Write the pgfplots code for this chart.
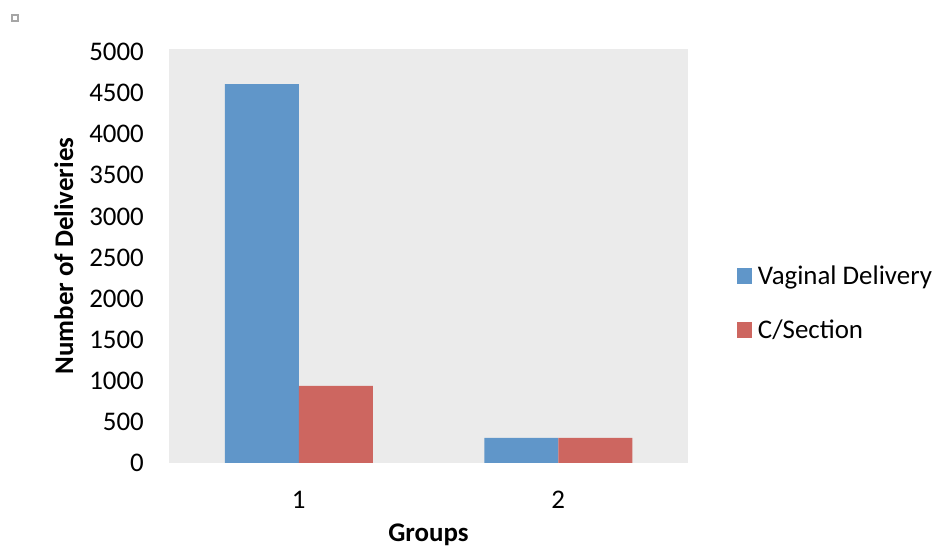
\documentclass[border=0pt]{standalone}
\usepackage{fontspec}
\setmainfont{Carlito}
\usepackage{pgfplots}
\pgfplotsset{compat=1.18}
\definecolor{barblue}{HTML}{6096C9}
\definecolor{barred}{HTML}{CD6660}
\definecolor{bggray}{HTML}{EBEBEB}
\begin{document}
\begin{tikzpicture}[x=1bp,y=1bp]
\useasboundingbox (0,0) rectangle (935,549);
\draw[gray!70, line width=1.2bp] (12,528) rectangle (18,534);
\begin{axis}[
  at={(169bp,86bp)}, anchor=south west,
  scale only axis,
  width=519bp, height=414bp,
  xmin=0.5, xmax=2.5,
  ymin=0, ymax=5036,
  xtick={1,2}, xticklabels={1,2},
  ytick={0,500,...,5000},
  major tick length=0pt,
  axis line style={draw=none},
  axis background/.style={fill=bggray},
  /pgf/number format/assume math mode=true,
  /pgf/number format/1000 sep={},
  font=\fontsize{27}{32}\selectfont,
  ticklabel style={font=\fontsize{27}{32}\selectfont, inner sep=0pt},
  yticklabel style={anchor=east, xshift=-25bp},
  xticklabel style={anchor=north, yshift=-28bp},
  xlabel={\textbf{Groups}},
  ylabel={\textbf{Number of Deliveries}},
  xlabel style={at={(axis description cs:0.5,0)}, anchor=north, inner sep=0pt, yshift=-61bp},
  ylabel style={at={(axis description cs:-0.184,0.5)}, anchor=south, inner sep=0pt},
  ybar, bar width=74bp,
  legend style={at={(axis description cs:1.094,0.386)}, anchor=west, draw=none, fill=none,
    font=\fontsize{27}{32}\selectfont, row sep=34bp, inner sep=0pt,
    nodes={inner sep=0pt, anchor=west}},
  legend cell align=left,
  legend image code/.code={\fill[#1] (0bp,-8bp) rectangle (15bp,8bp);},
  legend columns=1,
]
\addplot[fill=barblue, draw=none, bar shift=-37bp] coordinates {(1,4610) (2,305)};
\addplot[fill=barred, draw=none, bar shift=37bp] coordinates {(1,937) (2,305)};
\legend{\hspace{6bp}Vaginal Delivery, \hspace{6bp}C/Section}
\end{axis}
\end{tikzpicture}
\end{document}
